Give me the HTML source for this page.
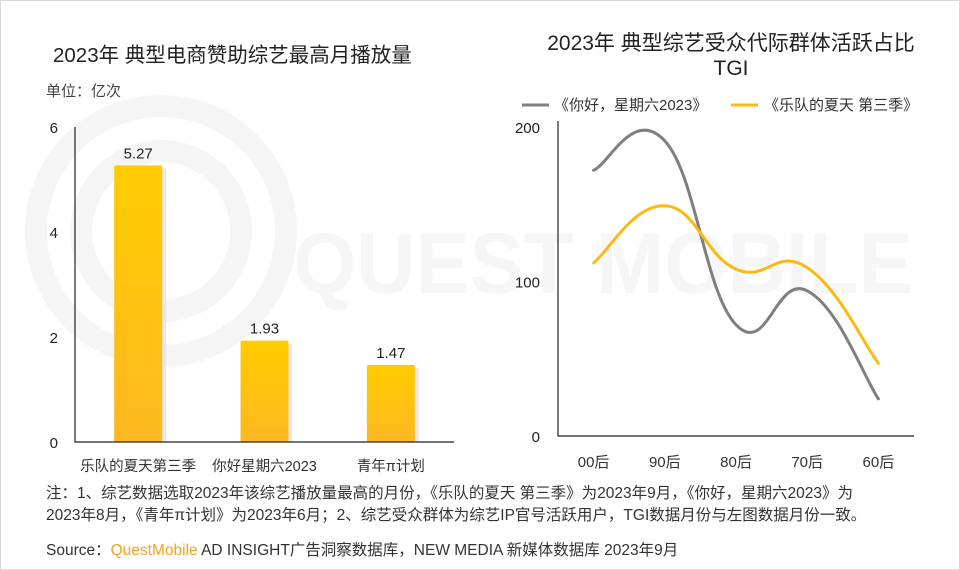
<!DOCTYPE html>
<html><head><meta charset="utf-8"><style>
body{margin:0;background:#fff;}
#root{position:relative;width:958px;height:568px;border:1px solid #d9d9d9;overflow:hidden;font-family:"Liberation Sans","Noto Sans CJK SC",sans-serif;color:#222;}
.t{position:absolute;white-space:nowrap;}
</style></head><body>
<div id="root">
<svg width="958" height="568" style="position:absolute;left:0;top:0">
 <g fill="none" stroke="#f5f5f5" stroke-width="22">
  <circle cx="160" cy="230" r="125"/>
  <circle cx="160" cy="230" r="80"/>
 </g>
 <text x="292" y="292" font-size="86" font-weight="bold" fill="#f6f6f6" font-family="Liberation Sans, sans-serif" textLength="620" lengthAdjust="spacingAndGlyphs">QUEST MOBILE</text>
</svg>
<div class="t" style="left:52px;top:37px;font-size:20.5px;">2023年 典型电商赞助综艺最高月播放量</div>
<div class="t" style="left:45px;top:79px;font-size:15px;color:#444">单位：亿次</div>
<div class="t" style="left:510px;top:30px;font-size:21px;width:440px;text-align:center;white-space:normal;line-height:25px">2023年 典型综艺受众代际群体活跃占比<br>TGI</div>
<svg id="c1" width="958" height="568" style="position:absolute;left:0;top:0">
<defs><linearGradient id="bg" x1="0" y1="0" x2="0" y2="1"><stop offset="0" stop-color="#ffcc00"/><stop offset="1" stop-color="#fdb822"/></linearGradient></defs>
</svg>
<svg id="c2" width="958" height="568" style="position:absolute;left:0;top:0"></svg>
<div class="t" style="left:45px;top:482px;font-size:15.5px;line-height:22px;color:#333">注：1、综艺数据选取2023年该综艺播放量最高的月份，《乐队的夏天 第三季》为2023年9月，《你好，星期六2023》为<br>2023年8月，《青年π计划》为2023年6月；2、综艺受众群体为综艺IP官号活跃用户，TGI数据月份与左图数据月份一致。</div>
<div class="t" style="left:45px;top:537px;font-size:15.5px;color:#333">Source：<span style="color:#f7a21b">QuestMobile</span> AD INSIGHT广告洞察数据库，NEW MEDIA 新媒体数据库 2023年9月</div>
</div>
<script>
const barCats=["乐队的夏天第三季","你好星期六2023","青年π计划"];
const barVals=[5.27,1.93,1.47];
const barTicks=[0,2,4,6];
const lineCats=["00后","90后","80后","70后","60后"];
const seriesGrey=[172,191,72,94,24];
const seriesYellow=[112,149,108,109,47];
const lineTicks=[0,100,200];
const NS="http://www.w3.org/2000/svg";
function mk(p,tag,a,txt){const e=document.createElementNS(NS,tag);for(const k in a)e.setAttribute(k,a[k]);if(txt!==undefined)e.textContent=txt;p.appendChild(e);return e;}
const c1=document.getElementById('c1');
const bx0=74,bx1=453,by0=441,by1=126,bmax=6;
const by=v=>by0-(v/bmax)*(by0-by1);
const bw=(bx1-bx0)/barCats.length;
barTicks.forEach(t=>{const e=mk(c1,'text',{x:bx0-17,y:by(t)+6,'font-size':15,'text-anchor':'end',fill:'#222'},t);

});
barCats.forEach((c,i)=>{const cx=bx0+bw*(i+0.5),v=barVals[i];
mk(c1,'rect',{x:cx-24+4,y:by(v)+3,width:48,height:by0-by(v)-3,fill:'#e8e8e8'});
const r=mk(c1,'rect',{x:cx-24,y:by(v),width:48,height:by0-by(v),rx:2,fill:'url(#bg)'});


const l=mk(c1,'text',{x:cx,y:by(v)-7,'font-size':15,'text-anchor':'middle',fill:'#222'},v.toFixed(2));


const x=mk(c1,'text',{x:cx,y:470,'font-size':14.5,'text-anchor':'middle',fill:'#333'},c);

});
mk(c1,'path',{d:`M${bx0} ${by1}V${by0}H${bx1}`,stroke:'#222','stroke-width':1.2,fill:'none'});
const c2=document.getElementById('c2');
const lx0=557,lx1=913,ly0=435,ly1=126,lmax=200;
const ly=v=>ly0-(v/lmax)*(ly0-ly1);
const lw=(lx1-lx0)/lineCats.length;
const lx=i=>lx0+lw*(i+0.5);
lineTicks.forEach(t=>{const e=mk(c2,'text',{x:lx0-18,y:ly(t)+6,'font-size':15,'text-anchor':'end',fill:'#222'},t);

});
lineCats.forEach((c,i)=>{const e=mk(c2,'text',{x:lx(i),y:466,'font-size':15,'text-anchor':'middle',fill:'#333'},c);

});
mk(c2,'path',{d:`M${lx0} ${ly1-6}V${ly0}H${lx1}`,stroke:'#222','stroke-width':1.2,fill:'none'});
function smooth(vals){const p=vals.map((v,i)=>[lx(i),ly(v)]);let d=`M${p[0][0]} ${p[0][1]}`;
for(let i=0;i<p.length-1;i++){const p0=p[i-1]||p[i],p1=p[i],p2=p[i+1],p3=p[i+2]||p2,k=0.22;
d+=` C${p1[0]+(p2[0]-p0[0])*k} ${p1[1]+(p2[1]-p0[1])*k} ${p2[0]-(p3[0]-p1[0])*k} ${p2[1]-(p3[1]-p1[1])*k} ${p2[0]} ${p2[1]}`;}return d;}
const g=mk(c2,'path',{d:smooth(seriesGrey),stroke:'#7f7f7f','stroke-width':3,fill:'none','stroke-linecap':'round'});


const y=mk(c2,'path',{d:smooth(seriesYellow),stroke:'#fdb913','stroke-width':3,fill:'none','stroke-linecap':'round'});


const lg1=mk(c2,'g',{});


mk(lg1,'line',{x1:521,y1:104,x2:548,y2:104,stroke:'#7f7f7f','stroke-width':3});
mk(lg1,'text',{x:553,y:109,'font-size':15,fill:'#333'},'《你好，星期六2023》');
const lg2=mk(c2,'g',{});


mk(lg2,'line',{x1:730,y1:104,x2:757,y2:104,stroke:'#fdb913','stroke-width':3});
mk(lg2,'text',{x:763,y:109,'font-size':15,fill:'#333'},'《乐队的夏天 第三季》');
</script>
</body></html>
